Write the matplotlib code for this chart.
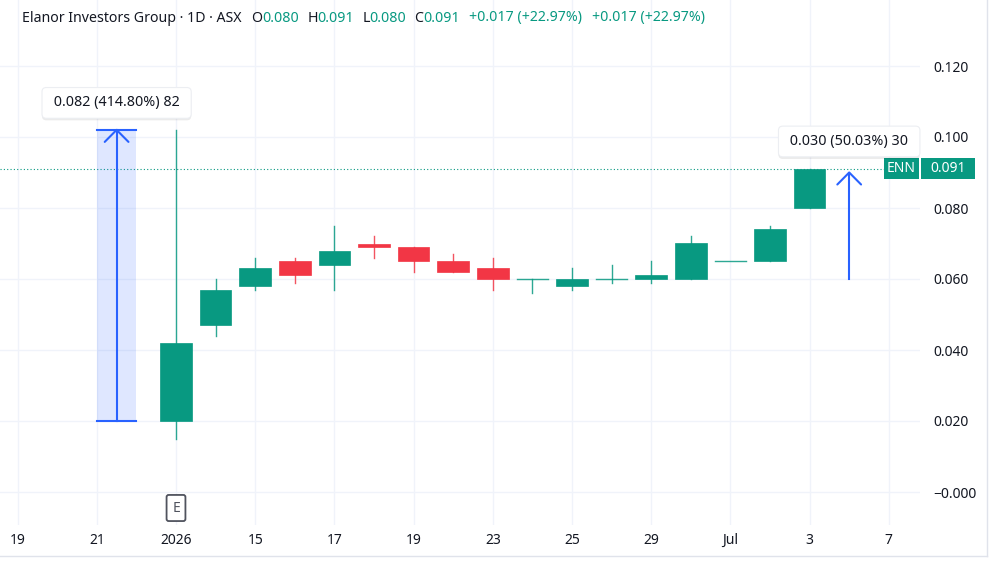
import matplotlib
matplotlib.use("Agg")
import matplotlib.pyplot as plt
import matplotlib.patheffects as pe
from matplotlib.patches import Rectangle
from matplotlib.lines import Line2D
from matplotlib.transforms import blended_transform_factory

plt.rcParams["font.family"] = ["Noto Sans", "DejaVu Sans"]

# daily bars, index 0 = first session of 2026
opens  = [0.020, 0.047, 0.058, 0.065, 0.064, 0.070, 0.069, 0.065, 0.063, 0.060, 0.058, 0.060, 0.060, 0.060, 0.065, 0.065, 0.080]
highs  = [0.102, 0.060, 0.066, 0.066, 0.075, 0.072, 0.069, 0.067, 0.066, 0.060, 0.063, 0.064, 0.065, 0.072, 0.065, 0.075, 0.091]
lows   = [0.015, 0.044, 0.057, 0.059, 0.057, 0.066, 0.062, 0.062, 0.057, 0.056, 0.057, 0.059, 0.059, 0.060, 0.065, 0.065, 0.080]
closes = [0.042, 0.057, 0.063, 0.061, 0.068, 0.069, 0.065, 0.062, 0.060, 0.060, 0.060, 0.060, 0.061, 0.070, 0.065, 0.074, 0.091]

tick_pos = [-4, -2, 0, 2, 4, 6, 8, 10, 12, 14, 16, 18]
tick_labels = ["19", "21", "2026", "15", "17", "19", "23", "25", "29", "Jul", "3", "7"]
y_ticks = [0.0, 0.02, 0.04, 0.06, 0.08, 0.10, 0.12]

# price range measurements
meas_x0 = [-2, 17]
meas_x1 = [-1, 17]
meas_from = [0.020, 0.060]
meas_to = [0.102, 0.090]
meas_labels = ["0.082 (414.80%) 82", "0.030 (50.03%) 30"]

last_price = 0.091
symbol = "ENN"

UP = "#089981"
DOWN = "#f23645"
BLUE = "#2962ff"
TXT = "#131722"

fig = plt.figure(figsize=(10, 5.62), dpi=100)
ax = fig.add_axes([0, 1 - 525 / 562, 0.92, 525 / 562])
ax.set_xlim(-176 / 39.6, (920 - 176) / 39.6)
ax.set_ylim((492 - 525) / 3550, 492 / 3550)

for s in ax.spines.values():
    s.set_visible(False)
ax.grid(True, color="#f0f3fa", lw=1)
ax.set_axisbelow(True)

ax.set_xticks(tick_pos)
ax.set_xticklabels(tick_labels, fontsize=10, color=TXT)
for lab in ax.get_xticklabels():
    if lab.get_text() == "2026":
        lab.set_fontweight("bold")
ax.yaxis.tick_right()
ax.set_yticks(y_ticks)
ax.set_yticklabels(["\u22120.000" if v == 0 else f"{v:.3f}" for v in y_ticks], fontsize=10, color=TXT)
ax.tick_params(axis="x", length=0, pad=6)
ax.tick_params(axis="y", length=0, pad=9.5)

# candles
w = 0.8
for i, (o, h, l, c) in enumerate(zip(opens, highs, lows, closes)):
    col = UP if c >= o else DOWN
    ax.plot([i, i], [l, h], color=col, lw=1, alpha=0.85, zorder=2)
    if abs(c - o) < 1e-9:
        ax.plot([i - w / 2, i + w / 2], [o, o], color=col, lw=1, alpha=0.85, zorder=3)
    else:
        ax.add_patch(Rectangle((i - w / 2, min(o, c)), w, abs(c - o), fc=col, ec=col, lw=0.5, zorder=3))

# last price line and labels
ax.axhline(last_price, color=UP, lw=0.8, ls=(0, (1, 2)), zorder=1)
bt = blended_transform_factory(ax.transAxes, ax.transData)
hh = 21 / 3550
ax.add_patch(Rectangle((884 / 920, last_price - hh / 2), 35 / 920, hh, transform=bt, fc=UP, ec="none", clip_on=False, zorder=5))
ax.add_patch(Rectangle((921 / 920, last_price - hh / 2), 54 / 920, hh, transform=bt, fc=UP, ec="none", clip_on=False, zorder=5))
ax.text(901.5 / 920, last_price, symbol, transform=bt, color="white", fontsize=10, ha="center", va="center", zorder=6)
ax.text(948 / 920, last_price, f"{last_price:.3f}", transform=bt, color="white", fontsize=10, ha="center", va="center", zorder=6, clip_on=False)

# measurement tool
cx, cy = 0.3, 12 / 3550
label_off = [27, 31]
for x0, x1, y0, y1, lab, off in zip(meas_x0, meas_x1, meas_from, meas_to, meas_labels, label_off):
    xm = (x0 + x1) / 2
    if x1 > x0:
        ax.add_patch(Rectangle((x0, y0), x1 - x0, y1 - y0, fc=BLUE, alpha=0.15, ec="none", zorder=2))
        ax.plot([x0, x1], [y0, y0], color=BLUE, lw=1.5, zorder=4)
        ax.plot([x0, x1], [y1, y1], color=BLUE, lw=1.5, zorder=4)
    ax.plot([xm, xm], [y0, y1], color=BLUE, lw=1.5, zorder=4)
    ax.plot([xm - cx, xm, xm + cx], [y1 - cy, y1, y1 - cy], color=BLUE, lw=1.5, zorder=4, solid_capstyle="round")
    t = ax.annotate(" " + lab + " ", (xm, y1), xytext=(0, off * 0.72), textcoords="offset points",
                    ha="center", va="center", fontsize=10.3, color=TXT, zorder=7,
                    bbox=dict(boxstyle="round,pad=0.55,rounding_size=0.3", fc="white", ec="#eceef2", lw=0.8))
    t.get_bbox_patch().set_path_effects([pe.SimplePatchShadow(offset=(0, -1.5), shadow_rgbFace="#000000", alpha=0.08), pe.Normal()])

# earnings marker
ax.text(0, -16 / 3550, "E", ha="center", va="center", fontsize=10, color="#50535e", zorder=6,
        bbox=dict(boxstyle="round,pad=0.4,rounding_size=0.15", fc="white", ec="#50535e", lw=1.3))

# frame lines
fig.add_artist(Line2D([0.987, 0.987], [1 - 556 / 562, 1], transform=fig.transFigure, color="#e0e3eb", lw=1))
fig.add_artist(Line2D([0, 0.987], [1 - 556 / 562, 1 - 556 / 562], transform=fig.transFigure, color="#e0e3eb", lw=1))

# header legend
header = [("Elanor Investors Group \u00b7 1D \u00b7 ASX", TXT, 10), ("O", TXT, 0), ("0.080", UP, 8),
          ("H", TXT, 0), ("0.091", UP, 8), ("L", TXT, 0), ("0.080", UP, 8), ("C", TXT, 0), ("0.091", UP, 9),
          ("+0.017 (+22.97%)", UP, 10), ("+0.017 (+22.97%)", UP, 0)]
renderer = fig.canvas.get_renderer()
xpix = 22
for txt, col, gap in header:
    t = fig.text(xpix / 1000, 1 - 18 / 562, txt, color=col, fontsize=10.2, va="center", ha="left")
    bb = t.get_window_extent(renderer)
    xpix = bb.x1 + gap

fig.savefig("out.png", dpi=100)
